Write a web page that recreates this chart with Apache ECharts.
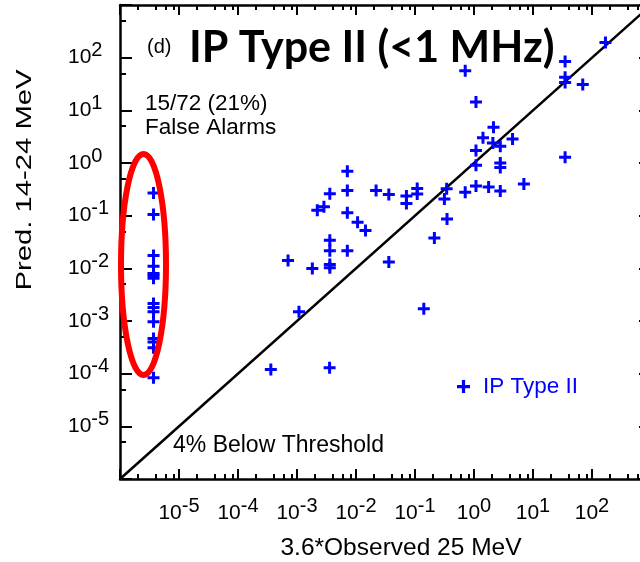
<!DOCTYPE html>
<html><head><meta charset="utf-8">
<script src="https://cdn.jsdelivr.net/npm/echarts@6/dist/echarts.min.js"></script>
<style>html,body{margin:0;padding:0;background:#fff}#c{width:640px;height:562px}</style>
</head><body><div id="c"></div>
<script>
// ---- data ----
const falseAlarmX = 3.7e-6;
const falseAlarmY = [0.27, 0.105, 0.0175, 0.011, 0.008, 0.0073, 0.0065, 0.00215, 0.0018, 0.0015, 0.00097, 0.000466, 0.0004, 0.00031, 8.4e-5];
const obsX = [0.71, 1.08, 2.14, 1.42, 4.5, 2.09, 2.79, 1.08, 1.08, 2.79, 2.79, 35, 35, 35, 69.7, 169, 35, 7.0, 2.79, 1.77, 1.08, 0.71, 0.344, 0.315, 0.349, 0.213, 0.036, 0.141, 0.109, 0.109, 0.0716, 0.0716, 0.036, 0.0219, 0.00713, 0.00713, 0.0036, 0.00286, 0.00221, 0.00713, 0.01064, 0.0145, 0.0036, 0.0036, 0.00713, 0.0036, 0.0036, 0.000705, 0.00182, 0.00108, 0.00036, 0.00357];
const predY = [56.6, 14.4, 4.76, 3.03, 2.87, 2.4, 2.07, 1.72, 0.91, 1.0, 0.82, 85, 42.6, 33.6, 30.8, 195, 1.28, 0.40, 0.293, 0.349, 0.365, 0.278, 0.323, 0.208, 0.0863, 0.0376, 0.0132, 0.0017, 0.327, 0.257, 0.235, 0.17, 0.251, 0.299, 0.697, 0.299, 0.26, 0.147, 0.127, 0.113, 0.075, 0.0521, 0.0341, 0.0216, 0.0216, 0.0118, 0.0103, 0.01406, 0.0099, 0.0015, 0.00012, 0.000129];
const axisMin = 1e-6, axisMax = 1e3;
const labelledExps = [-5, -4, -3, -2, -1, 0, 1, 2];
const xMinorMantissas = [2, 4, 6, 8];
const yMinorMantissas = [5];
const seriesName = 'IP Type II';

// ---- build ----
const minorVals = (m) => { const a = []; for (let e = -6; e < 3; e++) m.forEach(k => a.push(k * Math.pow(10, e))); return a; };
const majorVals = []; for (let e = -6; e <= 3; e++) majorVals.push(Math.pow(10, e));
const pts = obsX.map((x, i) => [x, predY[i]]).concat(falseAlarmY.map(y => [falseAlarmX, y]));
const plus = 'path://M4.5,0H7.5V4.5H12V7.5H7.5V12H4.5V7.5H0V4.5H4.5Z';
const FONT = '"Liberation Sans", Arial, Helvetica, sans-serif';
const rich = { b: { fontSize: 21, lineHeight: 34, fontFamily: FONT, color: '#000' }, s: { fontSize: 20, lineHeight: 18, verticalAlign: 'top', fontFamily: FONT, color: '#000' } };
function fmt(v) { const e = Math.round(Math.log10(v)); return labelledExps.includes(e) ? '{b|10}{s|' + e + '}' : ''; }
const lineStyle = { color: '#000', width: 2.5 };
function xAx(pos, major, label) {
  return { type: 'log', logBase: 10, min: axisMin, max: axisMax, position: pos, gridIndex: 0,
    axisLine: { show: major, onZero: false, lineStyle },
    splitLine: { show: false },
    axisTick: { show: true, inside: true, length: major ? 10 : 5, lineStyle: { color: '#000', width: 2 }, customValues: major ? majorVals : minorVals(xMinorMantissas) },
    axisLabel: label ? { show: true, formatter: fmt, rich, margin: 17, interval: 0, customValues: majorVals } : { show: false } };
}
function yAx(pos, major, label) {
  return { type: 'log', logBase: 10, min: axisMin, max: axisMax, position: pos, gridIndex: 0,
    axisLine: { show: major, onZero: false, lineStyle },
    splitLine: { show: false },
    axisTick: { show: true, inside: true, length: major ? 12 : 6, lineStyle: { color: '#000', width: 2 }, customValues: major ? majorVals : minorVals(yMinorMantissas) },
    axisLabel: label ? { show: true, formatter: fmt, rich, margin: 52, align: 'left', interval: 0, customValues: majorVals } : { show: false } };
}
const chart = echarts.init(document.getElementById('c'), null, { renderer: 'canvas' });
chart.setOption({
  animation: false,
  backgroundColor: '#fff',
  grid: { left: 120, top: 5, width: 531, height: 474, containLabel: false, outerBoundsMode: 'none' },
  xAxis: [xAx('bottom', true, true), xAx('bottom', false, false), xAx('top', true, false), xAx('top', false, false)],
  yAxis: [yAx('left', true, true), yAx('left', false, false), yAx('right', true, false), yAx('right', false, false)],
  legend: { data: [{ name: seriesName, icon: plus }], left: 452, top: 370, itemWidth: 13, itemHeight: 13,
    textStyle: { color: '#0000ff', fontSize: 22.5, fontFamily: FONT, padding: [0, 0, 0, 8] } },
  series: [
    { type: 'line', data: [[axisMin, axisMin], [axisMax, axisMax]], showSymbol: false, symbol: 'none', lineStyle: { color: '#000', width: 2.5 }, silent: true, z: 3 },
    { name: seriesName, type: 'scatter', data: pts, symbol: plus, symbolSize: 12, itemStyle: { color: '#0000ff', opacity: 1 }, z: 4 }
  ],
  graphic: [
    { type: 'text', x: 147, y: 47, style: { text: '(d)', font: '20px ' + FONT, fill: '#000', verticalAlign: 'middle' } },
    { type: 'text', x: 189, y: 48, style: { text: 'IP Type II (<1 MHz)', font: 'bold 43px Lato, "Open Sans", sans-serif', fill: '#000', verticalAlign: 'middle' } },
    { type: 'text', x: 145, y: 104, style: { text: '15/72 (21%)', font: '22.5px ' + FONT, fill: '#000', verticalAlign: 'middle' } },
    { type: 'text', x: 145, y: 128, style: { text: 'False Alarms', font: '22.5px ' + FONT, fill: '#000', verticalAlign: 'middle' } },
    { type: 'text', x: 173, y: 446, style: { text: '4% Below Threshold', font: '23px ' + FONT, fill: '#000', verticalAlign: 'middle' } },
    { type: 'text', x: 401, y: 548, style: { text: '3.6*Observed 25 MeV', font: '24.5px ' + FONT, fill: '#000', align: 'center', verticalAlign: 'middle' } },
    { type: 'text', x: 25, y: 180, rotation: Math.PI / 2, scaleX: 1.33, style: { text: 'Pred. 14-24 MeV', font: '22px ' + FONT, fill: '#000', align: 'center', verticalAlign: 'middle' } },
    { type: 'ellipse', z: 100, shape: { cx: 143.5, cy: 264.5, rx: 22.5, ry: 110.5 }, style: { fill: null, stroke: '#ff0000', lineWidth: 6 } }
  ]
});
</script></body></html>
